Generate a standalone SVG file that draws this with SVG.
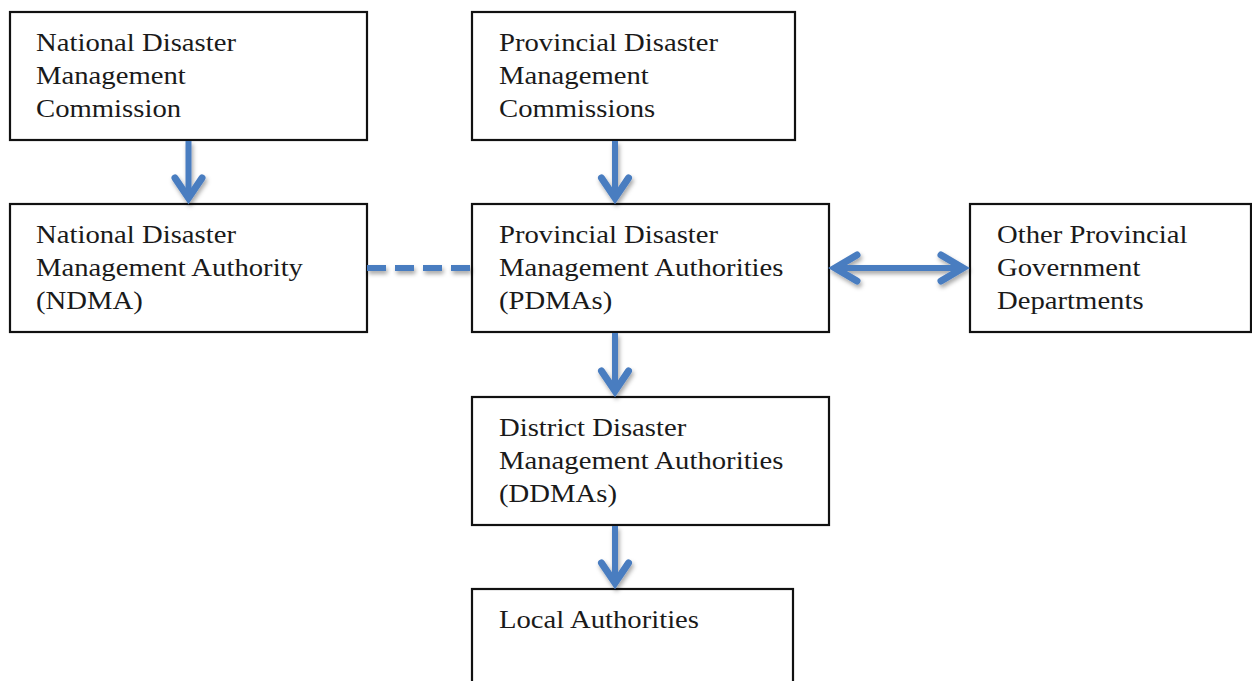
<svg xmlns="http://www.w3.org/2000/svg" width="1252" height="681" viewBox="0 0 1252 681">
<style>
.box{fill:#fff;stroke:#111;stroke-width:2.2}
.t{font-family:"Liberation Serif","Times New Roman",serif;font-size:26px;fill:#1a1a1a}
.c{fill:none;stroke:#4a7dc0;stroke-width:6}
.h{fill:none;stroke:#4a7dc0;stroke-width:7;stroke-linecap:round;stroke-linejoin:miter}
.d{fill:none;stroke:#4a7dc0;stroke-width:6;stroke-dasharray:19 9}
</style>
<defs>
<filter id="sh" x="-20%" y="-20%" width="140%" height="160%">
<feDropShadow dx="1.5" dy="3" stdDeviation="2" flood-color="#000" flood-opacity="0.35"/>
</filter>
</defs>
<rect width="1252" height="681" fill="#fff"/>
<g id="ndmc">
<rect class="box" x="10" y="12" width="357" height="128"/>
<text class="t" transform="translate(36,51) scale(1.104,1)"><tspan x="0" y="0">National Disaster</tspan><tspan x="0" y="33">Management</tspan><tspan x="0" y="66">Commission</tspan></text>
</g>
<g id="ndma">
<rect class="box" x="10" y="204" width="357" height="128"/>
<text class="t" transform="translate(36,243) scale(1.104,1)"><tspan x="0" y="0">National Disaster</tspan><tspan x="0" y="33">Management Authority</tspan><tspan x="0" y="66">(NDMA)</tspan></text>
</g>
<g id="pdmc">
<rect class="box" x="472" y="12" width="323" height="128"/>
<text class="t" transform="translate(499,51) scale(1.104,1)"><tspan x="0" y="0">Provincial Disaster</tspan><tspan x="0" y="33">Management</tspan><tspan x="0" y="66">Commissions</tspan></text>
</g>
<g id="pdma">
<rect class="box" x="472" y="204" width="357" height="128"/>
<text class="t" transform="translate(499,243) scale(1.104,1)"><tspan x="0" y="0">Provincial Disaster</tspan><tspan x="0" y="33">Management Authorities</tspan><tspan x="0" y="66">(PDMAs)</tspan></text>
</g>
<g id="other">
<rect class="box" x="970" y="204" width="281" height="128"/>
<text class="t" transform="translate(997,243) scale(1.104,1)"><tspan x="0" y="0">Other Provincial</tspan><tspan x="0" y="33">Government</tspan><tspan x="0" y="66">Departments</tspan></text>
</g>
<g id="ddma">
<rect class="box" x="472" y="397" width="357" height="128"/>
<text class="t" transform="translate(499,436) scale(1.104,1)"><tspan x="0" y="0">District Disaster</tspan><tspan x="0" y="33">Management Authorities</tspan><tspan x="0" y="66">(DDMAs)</tspan></text>
</g>
<g id="local">
<rect class="box" x="472" y="589" width="321" height="130"/>
<text class="t" transform="translate(499,628) scale(1.104,1)">Local Authorities</text>
</g>
<g id="connectors" filter="url(#sh)">
<line class="c" x1="188.5" y1="141" x2="188.5" y2="199"/>
<polyline class="h" points="175,178 188.5,198 202,178"/>
<line class="c" x1="615" y1="141" x2="615" y2="199"/>
<polyline class="h" points="601.5,178 615,198 628.5,178"/>
<line class="c" x1="615" y1="333" x2="615" y2="392"/>
<polyline class="h" points="601.5,371 615,391 628.5,371"/>
<line class="c" x1="615" y1="526" x2="615" y2="584"/>
<polyline class="h" points="601.5,563 615,583 628.5,563"/>
<line class="c" x1="836" y1="268" x2="962" y2="268"/>
<polyline class="h" points="857,255 835,268 857,281"/>
<polyline class="h" points="941,255 963,268 941,281"/>
<line class="d" x1="367" y1="268" x2="471" y2="268"/>
</g>
</svg>
